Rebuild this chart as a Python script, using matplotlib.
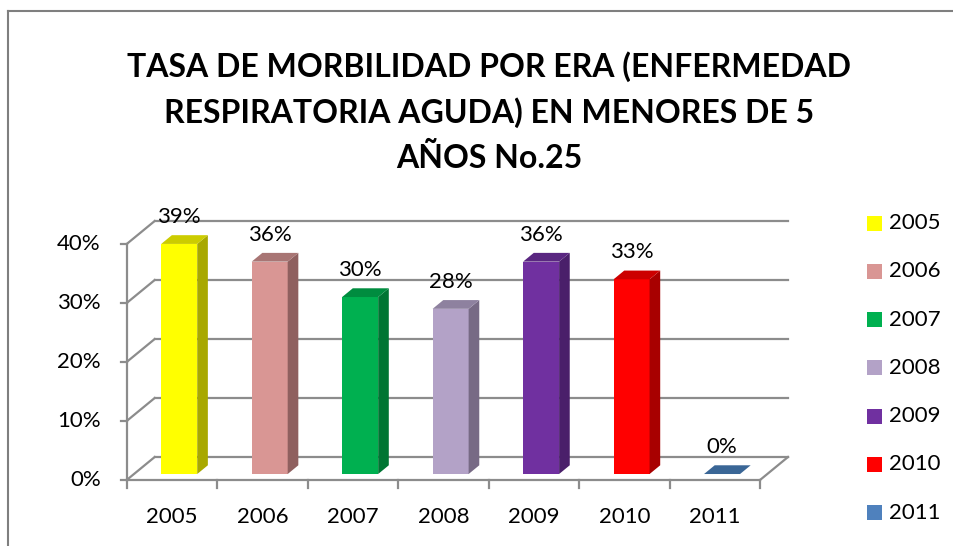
import matplotlib
matplotlib.use("Agg")
import matplotlib.pyplot as plt
from matplotlib.patches import Polygon, Rectangle
from matplotlib.lines import Line2D

# ---- data ----
years = ["2005", "2006", "2007", "2008", "2009", "2010", "2011"]
rates = [0.39, 0.36, 0.30, 0.28, 0.36, 0.33, 0.00]
labels = ["39%", "36%", "30%", "28%", "36%", "33%", "0%"]
yticks = [0.0, 0.1, 0.2, 0.3, 0.4]
ytick_labels = ["0%", "10%", "20%", "30%", "40%"]
front_colors = ["#FFFF00", "#D99694", "#00B050", "#B3A2C7", "#7030A0", "#FF0000", "#4F81BD"]
side_colors = ["#A8A800", "#8F605F", "#007533", "#776A85", "#4A1F6A", "#A80000", "#3A6696"]
top_colors = ["#CCCC00", "#A87574", "#008C3F", "#8E819F", "#5A2781", "#CC0000", "#3A6696"]
title = "TASA DE MORBILIDAD POR ERA (ENFERMEDAD\nRESPIRATORIA AGUDA) EN MENORES DE 5\nAÑOS No.25"

W, H = 954, 546
DPI = 100
FONT = ["Lato", "DejaVu Sans"]
FS = 16

fig = plt.figure(figsize=(W / DPI, H / DPI), dpi=DPI)
fig.patch.set_facecolor("white")
ax = fig.add_axes([0, 0, 1, 1])

# front plane layout (pixels): x axis from 126.7 to 760 at y=480, 10% = 59 px
X0, X1, YF = 126.7, 760.0, 480.0
cat_w = (X1 - X0) / len(years)
unit = 590.0  # pixels per 100 %
ax.set_xlim(-0.5 - X0 / cat_w, -0.5 + (W - X0) / cat_w)
ax.set_ylim(-(H - YF) / unit, YF / unit)
ax.axis("off")

# oblique depth offset (floor depth) in data units
DX = 28.0 / cat_w
DY = 23.0 / unit
grid_c = "#8C8C8C"
lw = 1.6
xl, xr = -0.5, len(years) - 0.5

# back wall gridlines and left wall diagonals
for v in yticks:
    ax.plot([xl + DX, xr + DX], [v + DY, v + DY], color=grid_c, lw=lw, zorder=1)
    ax.plot([xl, xl + DX], [v, v + DY], color=grid_c, lw=lw, zorder=1)
    ax.plot([xl - 6 / cat_w, xl], [v, v], color=grid_c, lw=lw, zorder=1)
# front vertical axis
ax.plot([xl, xl], [0, yticks[-1]], color=grid_c, lw=lw, zorder=1)
# floor front edge and right diagonal
ax.plot([xl, xr], [0, 0], color=grid_c, lw=lw, zorder=1)
ax.plot([xr, xr + DX], [0, DY], color=grid_c, lw=lw, zorder=1)
# category ticks
for i in range(len(years) + 1):
    xt = xl + i
    ax.plot([xt, xt], [0, -8 / unit], color=grid_c, lw=lw, zorder=1)

# bars with side and top faces
f0, f1 = 0.26, 0.64
bw = 36.0 / cat_w
for i, (v, fc, sc, tc) in enumerate(zip(rates, front_colors, side_colors, top_colors)):
    x_front = i + f0 * DX
    y0 = f0 * DY
    ddx = (f1 - f0) * DX
    ddy = (f1 - f0) * DY
    left, right = x_front - bw / 2, x_front + bw / 2
    if v > 0:
        ax.bar(x_front, v, width=bw, bottom=y0, color=fc, edgecolor="none", zorder=3)
        side = Polygon([(right, y0), (right + ddx, y0 + ddy),
                        (right + ddx, y0 + v + ddy), (right, y0 + v)],
                       closed=True, facecolor=sc, edgecolor="none", zorder=3)
        ax.add_patch(side)
    top = Polygon([(left, y0 + v), (right, y0 + v),
                   (right + ddx, y0 + v + ddy), (left + ddx, y0 + v + ddy)],
                  closed=True, facecolor=tc, edgecolor="none", zorder=3)
    ax.add_patch(top)
    ax.text(x_front, y0 + v + 27 / unit, labels[i], ha="center", va="center",
            fontsize=FS, family=FONT, color="black", zorder=4)

# y tick labels
for v, t in zip(yticks, ytick_labels):
    ax.text(xl - 26 / cat_w, v, t, ha="right", va="center",
            fontsize=FS, family=FONT, color="black")
# x tick labels
for i, t in enumerate(years):
    ax.text(i, -37 / unit, t, ha="center", va="center",
            fontsize=FS, family=FONT, color="black")

# title
fig.text(489 / W, 1 - 112 / H, title, ha="center", va="center",
         fontsize=23, fontweight="bold", family=FONT, linespacing=1.6)

# legend
for i, (t, fc) in enumerate(zip(years, front_colors)):
    yc = 223 + i * 48.3
    fig.patches.append(Rectangle((867 / W, 1 - (yc + 7.5) / H), 15 / W, 15 / H,
                                 transform=fig.transFigure, facecolor=fc,
                                 edgecolor="none"))
    fig.text(889 / W, 1 - yc / H, t, ha="left", va="center",
             fontsize=FS, family=FONT)

# chart border
fig.add_artist(Line2D([8.5 / W, 8.5 / W], [0, 1 - 10.5 / H],
                      transform=fig.transFigure, color="#7F7F7F", lw=1.5))
fig.add_artist(Line2D([8.5 / W, 1], [1 - 10.5 / H, 1 - 10.5 / H],
                      transform=fig.transFigure, color="#7F7F7F", lw=1.5))

fig.savefig("out.png", dpi=DPI)
